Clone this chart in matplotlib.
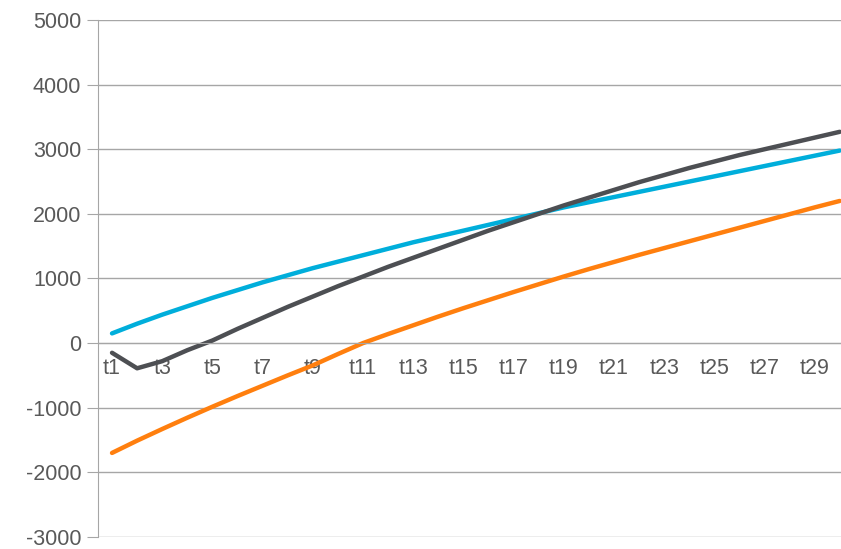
import matplotlib
matplotlib.use('Agg')
import matplotlib.pyplot as plt

categories = ['t' + str(i) for i in range(1, 31)]
blue = [150, 300, 440, 570, 700, 820, 940, 1050, 1160, 1260, 1360, 1460, 1560, 1650, 1740,
        1830, 1920, 2010, 2100, 2180, 2260, 2340, 2420, 2500, 2580, 2660, 2740, 2820, 2900, 2980]
orange = [-1700, -1510, -1330, -1155, -985, -820, -660, -500, -345, -170, 0, 140, 275, 410, 540,
          665, 790, 910, 1030, 1145, 1255, 1365, 1470, 1575, 1680, 1785, 1890, 1995, 2100, 2200]
dark = [-150, -390, -280, -110, 40, 220, 390, 560, 720, 880, 1030, 1180, 1320, 1460, 1600,
        1740, 1870, 2000, 2130, 2250, 2370, 2490, 2600, 2710, 2810, 2910, 3000, 3090, 3180, 3270]

plt.rcParams['font.family'] = ['Liberation Sans', 'DejaVu Sans']
plt.rcParams['axes.unicode_minus'] = False
fig = plt.figure(figsize=(8.41, 5.49), dpi=100)
ax = fig.add_axes([0.1165, 0.022, 0.8835, 0.9415])

x = list(range(len(categories)))
ax.plot(x, blue, color='#00AEDB', lw=3.2, solid_capstyle='round')
ax.plot(x, orange, color='#FF7F0E', lw=3.2, solid_capstyle='round')
ax.plot(x, dark, color='#4D4F53', lw=3.2, solid_capstyle='round')

ax.set_xlim(-0.56, 29.05)
ax.set_ylim(-3000, 5000)
ax.set_yticks(range(-3000, 5001, 1000))
ax.yaxis.grid(True, color='#A6A6A6', lw=1)
ax.set_axisbelow(True)
ax.set_xticks(x[::2])
ax.set_xticklabels(categories[::2])
for s in ['top', 'right']:
    ax.spines[s].set_visible(False)
ax.spines['left'].set_color('#A6A6A6')
ax.spines['bottom'].set_position(('data', 0))
ax.spines['bottom'].set_color('#A6A6A6')
ax.tick_params(axis='x', length=0, pad=11, labelsize=15.5, labelcolor='#595959')
ax.tick_params(axis='y', length=8, color='#A6A6A6', labelsize=15.5, labelcolor='#595959', pad=4)

fig.savefig('out.png', dpi=100)
